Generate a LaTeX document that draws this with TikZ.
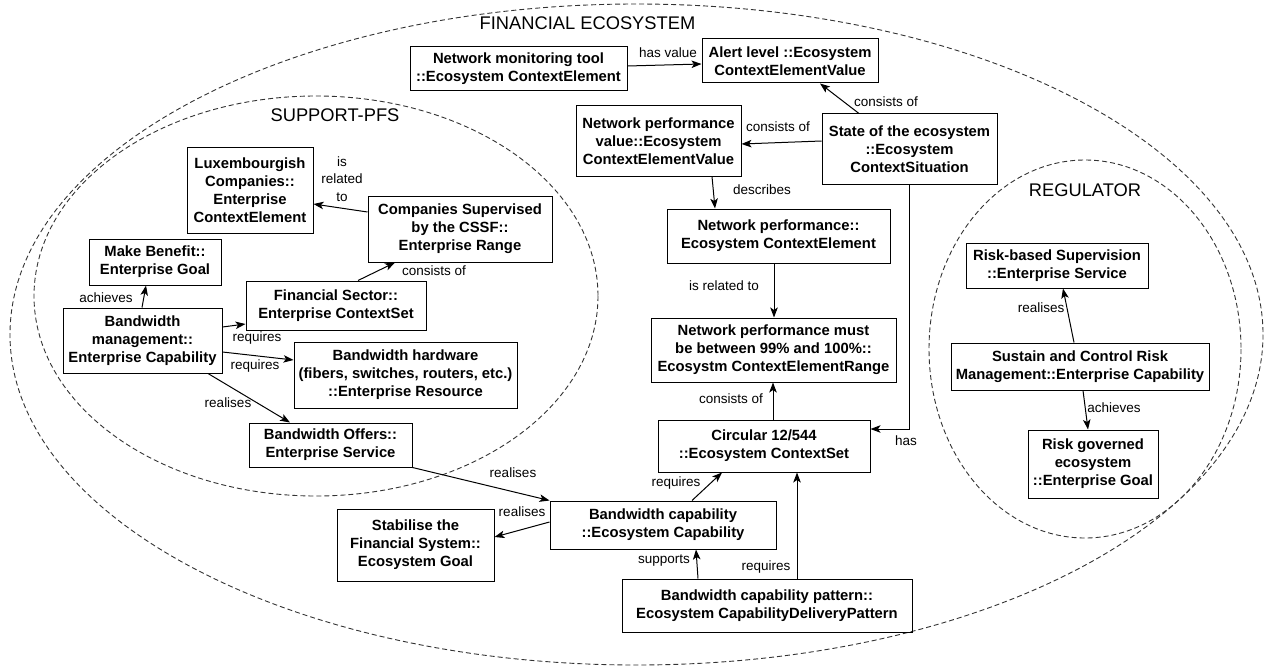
\documentclass[tikz,border=0pt]{standalone}
\usepackage{fontspec}
\setmainfont{Liberation Sans}
\usetikzlibrary{arrows.meta}
\newcommand\bxfont{\fontsize{14.8}{18}\selectfont\bfseries}
\newcommand\lbfont{\fontsize{13.5}{17.5}\selectfont}
\newcommand\ttlfont{\fontsize{18.3}{20}\selectfont}
\begin{document}
\begin{tikzpicture}[x=1pt,y=-1pt,
  box/.style={draw, line width=1pt, inner sep=0pt, align=center, font=\bxfont},
  lbl/.style={inner sep=0pt, align=center, font=\lbfont},
  ttl/.style={inner sep=0pt, font=\ttlfont},
  arr/.style={-{Stealth[length=10pt,width=7.5pt,inset=2.5pt]}, line width=1pt},
  ell/.style={draw, line width=0.9pt, dash pattern=on 5pt off 3pt, black!80}]
\useasboundingbox (0,0) rectangle (1265,666);
% ellipses
\draw[ell] (636.5,334.5) ellipse [x radius=626.5, y radius=330.5];
\draw[ell] (316,296) ellipse [x radius=282, y radius=200];
\draw[ell] (1085,349) ellipse [x radius=156, y radius=189];
\node[ttl] (tfin) at (587.5,23) {FINANCIAL ECOSYSTEM};
\node[ttl] (tsup) at (335,115) {SUPPORT-PFS};
\node[ttl] (treg) at (1085,190.5) {REGULATOR};
% boxes
\node[box, minimum width=217pt, minimum height=44pt] (nmt) at (518.5,69) {Network monitoring tool\\::Ecosystem ContextElement};
\node[box, minimum width=176pt, minimum height=44pt] (alert) at (790,61) {Alert level ::Ecosystem\\ContextElementValue};
\node[box, minimum width=165pt, minimum height=70pt] (npv) at (658.5,141) {Network performance\\value::Ecosystem\\ContextElementValue};
\node[box, minimum width=175pt, minimum height=70pt] (state) at (909.5,149) {State of the ecosystem\\::Ecosystem\\ContextSituation};
\node[box, minimum width=223pt, minimum height=54pt] (np) at (778.5,236) {Network performance::\\Ecosystem ContextElement};
\node[box, minimum width=245pt, minimum height=64pt] (npm) at (773.5,350) {Network performance must\\be between 99\% and 100\%::\\Ecosystm ContextElementRange};
\node[box, minimum width=212pt, minimum height=52pt] (circ) at (764,446) {Circular 12/544\\::Ecosystem ContextSet};
\node[box, minimum width=226pt, minimum height=48pt] (bc) at (663,525) {Bandwidth capability\\::Ecosystem Capability};
\node[box, minimum width=157pt, minimum height=72pt] (stab) at (415.5,545) {Stabilise the\\Financial System::\\Ecosystem Goal};
\node[box, minimum width=290pt, minimum height=53pt] (pat) at (767,605.5) {Bandwidth capability pattern::\\Ecosystem CapabilityDeliveryPattern};
\node[box, minimum width=126pt, minimum height=86pt] (lux) at (250,190) {Luxembourgish\\Companies::\\Enterprise\\ContextElement};
\node[box, minimum width=184pt, minimum height=66pt] (cs) at (460,229) {Companies Supervised\\by the CSSF::\\Enterprise Range};
\node[box, minimum width=132pt, minimum height=46pt] (mb) at (155,262) {Make Benefit::\\Enterprise Goal};
\node[box, minimum width=159pt, minimum height=65pt] (bm) at (142.5,340.5) {Bandwidth\\management::\\Enterprise Capability};
\node[box, minimum width=180pt, minimum height=49pt] (fs) at (336,305.5) {Financial Sector::\\Enterprise ContextSet};
\node[box, minimum width=223pt, minimum height=66pt] (bh) at (405.5,375) {Bandwidth hardware\\(fibers, switches, routers, etc.)\\::Enterprise Resource};
\node[box, minimum width=163pt, minimum height=44pt] (bo) at (330.5,445) {Bandwidth Offers::\\Enterprise Service};
\node[box, minimum width=182pt, minimum height=45pt] (rbs) at (1057,265.5) {Risk-based Supervision\\::Enterprise Service};
\node[box, minimum width=258pt, minimum height=47pt] (scr) at (1080,366.5) {Sustain and Control Risk\\Management::Enterprise Capability};
\node[box, minimum width=130pt, minimum height=68pt] (rg) at (1093,464) {Risk governed\\ecosystem\\::Enterprise Goal};
% connectors
\draw[arr] ([yshift=3pt]nmt.east) -- ([yshift=-3pt]alert.west);
\draw[arr] ([xshift=-50.5pt]state.north) -- ([xshift=30pt]alert.south);
\draw[arr] ([yshift=8pt]state.west) -- ([yshift=-3pt]npv.east);
\draw[arr] ([xshift=53.5pt]npv.south) -- ([xshift=-63.5pt]np.north);
\draw[arr] ([xshift=-4.5pt]np.south) -- ([xshift=0.5pt]npm.north);
\draw[arr] ([xshift=9pt]circ.north) -- ([xshift=-0.5pt]npm.south);
\draw[arr] (state.south) |- ([yshift=17pt]circ.east);
\draw[arr] (bo.south east) -- (bc.north west);
\draw[arr] ([yshift=3pt]bc.west) -- ([yshift=8pt]stab.east);
\draw[arr] ([xshift=29pt]bc.north) -- ([xshift=-42pt]circ.south);
\draw[arr] ([xshift=-69pt]pat.north) -- ([xshift=33pt]bc.south);
\draw[arr] ([xshift=30pt]pat.north) -- ([xshift=33pt]circ.south);
\draw[arr] ([yshift=17pt]cs.west) -- ([yshift=-14pt]lux.east);
\draw[arr] ([xshift=22pt]fs.north) -- ([xshift=-65pt]cs.south);
\draw[arr] ([xshift=-0.5pt]bm.north) -- ([xshift=-9pt]mb.south);
\draw[arr] ([yshift=13.5pt]bm.east) -- ([yshift=-18.5pt]fs.west);
\draw[arr] ([yshift=-11.5pt]bm.east) -- ([yshift=15pt]bh.west);
\draw[arr] ([xshift=65.5pt]bm.south) -- ([xshift=-40.5pt]bo.north);
\draw[arr] ([xshift=-6pt]scr.north) -- ([xshift=6pt]rbs.south);
\draw[arr] ([xshift=3pt]scr.south) -- ([xshift=-5pt]rg.north);
% labels
\node[lbl] (l1) at (668,53) {has value};
\node[lbl] (l2) at (886,102) {consists of};
\node[lbl] (l3) at (778,127) {consists of};
\node[lbl] (l4) at (762,190) {describes};
\node[lbl] (l5) at (724,286) {is related to};
\node[lbl] (l6) at (731,399) {consists of};
\node[lbl] (l7) at (906,441) {has};
\node[lbl] (l8) at (513,473) {realises};
\node[lbl] (l9) at (522,512) {realises};
\node[lbl] (l10) at (676,483) {requires};
\node[lbl] (l11) at (664,561) {supports};
\node[lbl] (l12) at (766,567) {requires};
\node[lbl] (l13) at (342,179) {is\\related\\to};
\node[lbl] (l14) at (434,271) {consists of};
\node[lbl] (l15) at (106,298) {achieves};
\node[lbl] (l16) at (257,338) {requires};
\node[lbl] (l17) at (255,366) {requires};
\node[lbl] (l18) at (228,403) {realises};
\node[lbl] (l19) at (1041,308) {realises};
\node[lbl] (l20) at (1114,408) {achieves};
\end{tikzpicture}
\end{document}
